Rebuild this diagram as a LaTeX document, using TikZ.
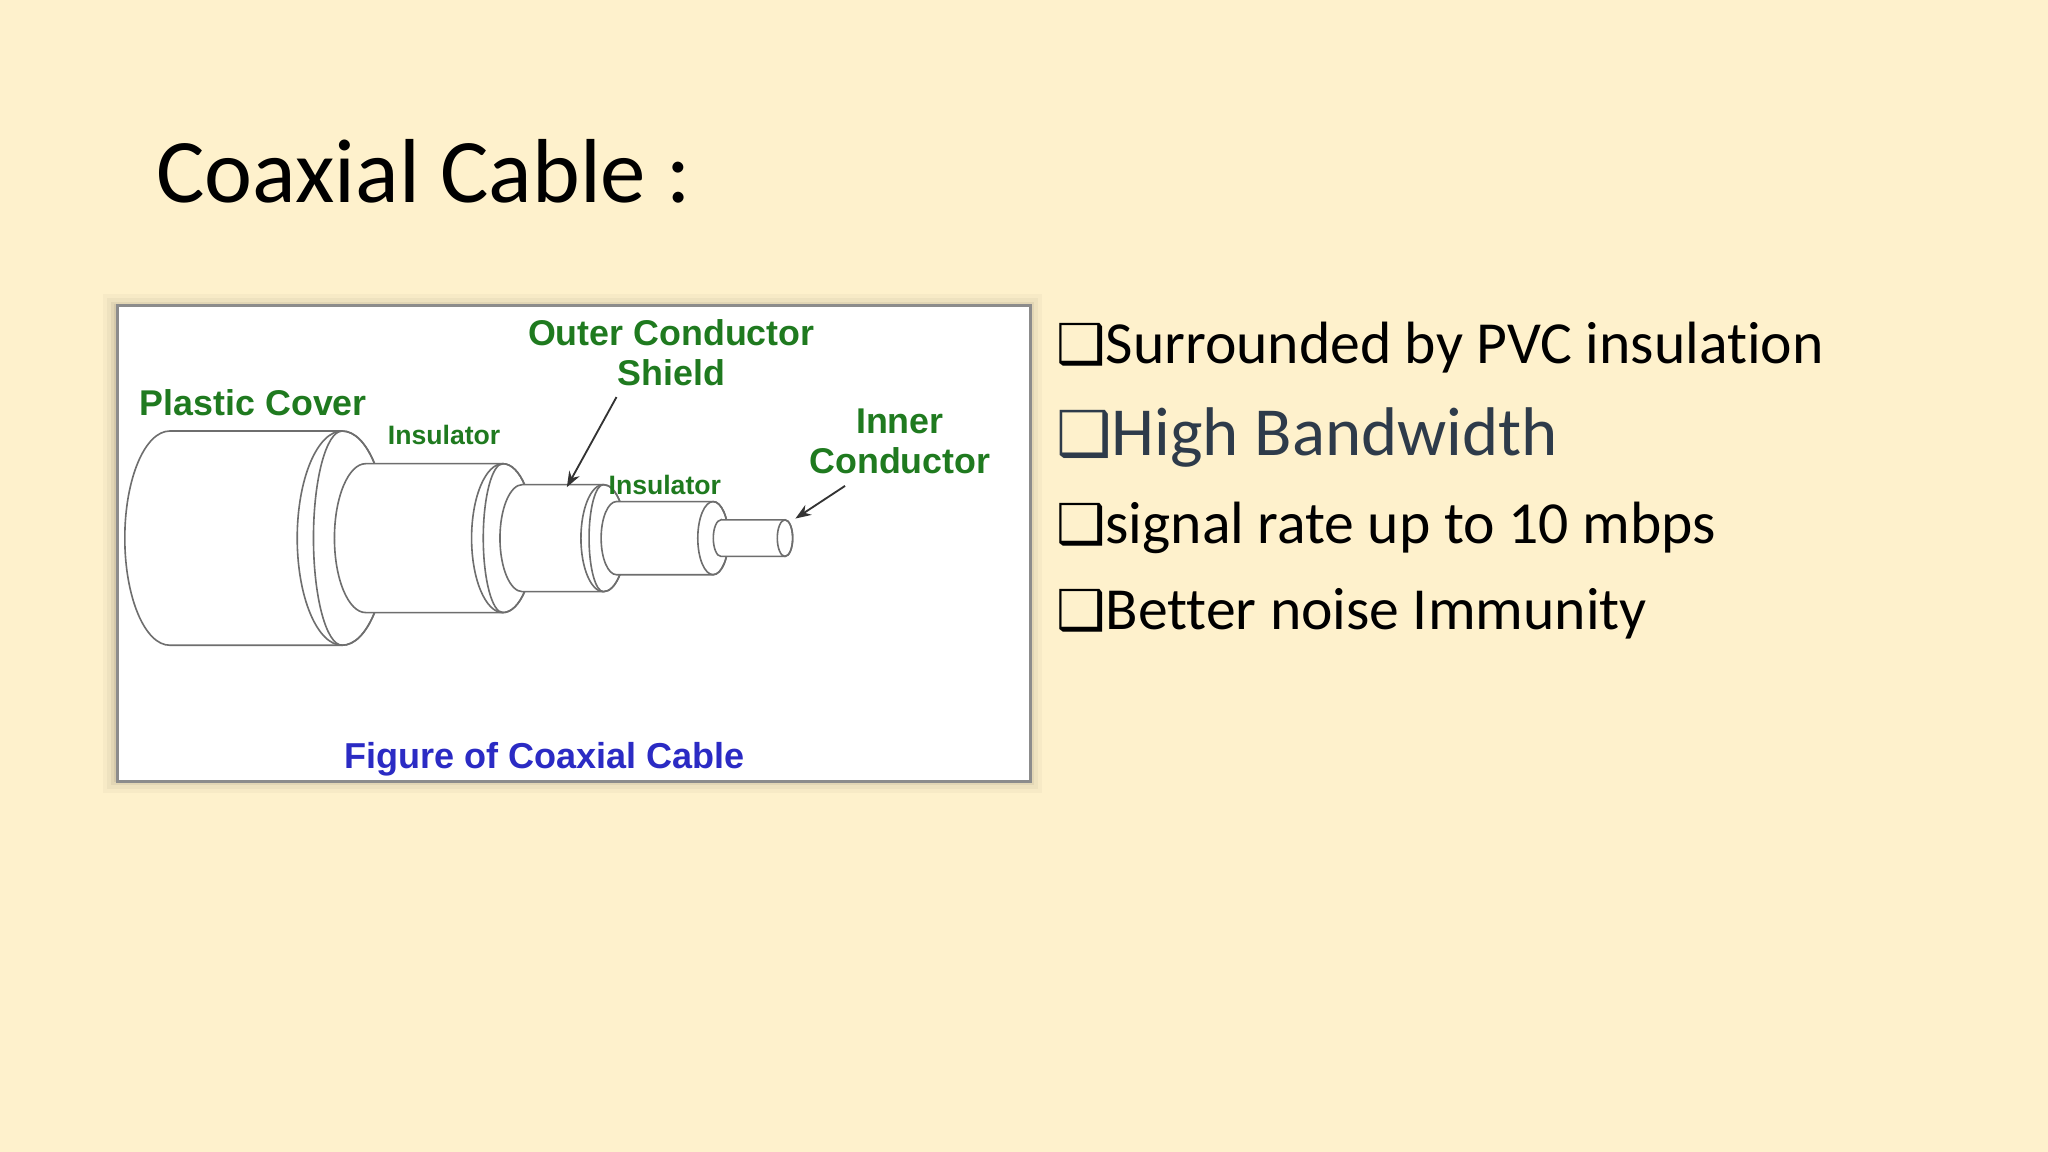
\documentclass[tikz,border=0pt]{standalone}
\usepackage{fontspec}
\setmainfont{Carlito}[Ligatures={NoCommon}]
\newfontfamily\arialb{Liberation Sans}[BoldFont={Liberation Sans Bold}]
\newfontfamily\djv{DejaVu Sans}
\usetikzlibrary{arrows.meta}
\definecolor{bg}{HTML}{FEF1CC}
\definecolor{lblgreen}{HTML}{1F7A1F}
\definecolor{capblue}{HTML}{2B2BC4}
\definecolor{cablegray}{HTML}{6E6E6E}
\definecolor{darkslate}{HTML}{2E3B4A}
\tikzset{
  lbl/.style={font=\arialb\bfseries\fontsize{7.8}{8.6}\selectfont, text=lblgreen, inner sep=0pt, align=center},
  slbl/.style={font=\arialb\bfseries\fontsize{5.8}{6.5}\selectfont, text=lblgreen, inner sep=0pt},
  bul/.style={anchor=base west, inner sep=0pt, font=\fontsize{13}{15}\selectfont},
  cyl/.style={draw=cablegray, fill=white, line width=0.35pt},
  arr/.style={draw=black!80, line width=0.4pt, -{Stealth[length=1.2mm]}}
}
\newcommand{\cylinder}[3]{% L R r, center y 412
  \pgfmathsetmacro{\rx}{0.042*#3}
  \pgfmathsetmacro{\ry}{0.1*#3}
  \path[cyl] (#1,412-#3) -- (#2,412-#3) arc[start angle=90,end angle=-90,x radius=\rx mm,y radius=\ry mm]
    -- (#1,412+#3) arc[start angle=-90,end angle=-270,x radius=\rx mm,y radius=\ry mm] -- cycle;
  \draw[cablegray, line width=0.35pt] (#2,412) ellipse[x radius=\rx mm,y radius=\ry mm];
}
\newcommand{\rim}[3]{% x, r, rx(units)
  \draw[cablegray, line width=0.35pt] (#1,412-#2) arc[start angle=90,end angle=270,x radius=#3*0.1mm,y radius=#2*0.1mm];
}
\begin{document}
\begin{tikzpicture}[x=0.1mm,y=-0.1mm]
\fill[bg] (0,0) rectangle (1568,882);
\useasboundingbox (0,0) rectangle (1568,882);
% title
\node[anchor=base west, inner sep=0pt, font=\fontsize{19.8}{23}\selectfont] (title) at (119,155) {Coaxial Cable :};
% panel shadow
\foreach \d/\o in {10/0.06,7/0.08,4/0.12,2/0.15}{
  \fill[black!45!bg, opacity=\o] (89-\d,233-\d+2) rectangle (788+\d,597+\d);
}
\node[draw=black!45, fill=white, line width=0.6pt, minimum width=69.9mm, minimum height=36.4mm, inner sep=0pt, anchor=north west] (panel) at (89,233) {};
% cable
\begin{scope}
\clip (90,234) rectangle (787,596);
\cylinder{130}{262}{82}
\rim{262}{82}{22}
\cylinder{280}{385}{57}
\rim{385}{57}{15}
\cylinder{400}{462}{41}
\rim{462}{41}{11}
\cylinder{472}{546}{28}
\cylinder{552}{601}{14}
\end{scope}
% labels
\node[lbl] (ocs) at (514,270) {Outer Conductor\\Shield};
\node[lbl] (pc) at (194,308) {Plastic Cover};
\node[slbl] (ins1) at (340,333) {Insulator};
\node[slbl] (ins2) at (509,371) {Insulator};
\node[lbl] (ic) at (689,338) {Inner\\Conductor};
\coordinate (ocsTip) at (434,373);
\coordinate (icTip) at (609,397);
\draw[arr] (472,304) -- (ocsTip);
\draw[arr] (647,372) -- (icTip);
\node[font=\arialb\bfseries\fontsize{7.85}{8.6}\selectfont, text=capblue, inner sep=0pt] (cap) at (417,581) {Figure of Coaxial Cable};
% bullets
\node[bul] (b1) at (808,278) {{\djv\fontsize{12}{14}\selectfont ❑}Surrounded by PVC insulation};
\node[bul, font=\fontsize{15}{17}\selectfont, text=darkslate] (b2) at (808,349) {{\djv\fontsize{13.5}{15}\selectfont ❑}High Bandwidth};
\node[bul] (b3) at (808,416) {{\djv\fontsize{12}{14}\selectfont ❑}signal rate up to 10 mbps};
\node[bul] (b4) at (808,482) {{\djv\fontsize{12}{14}\selectfont ❑}Better noise Immunity};
\end{tikzpicture}
\end{document}
